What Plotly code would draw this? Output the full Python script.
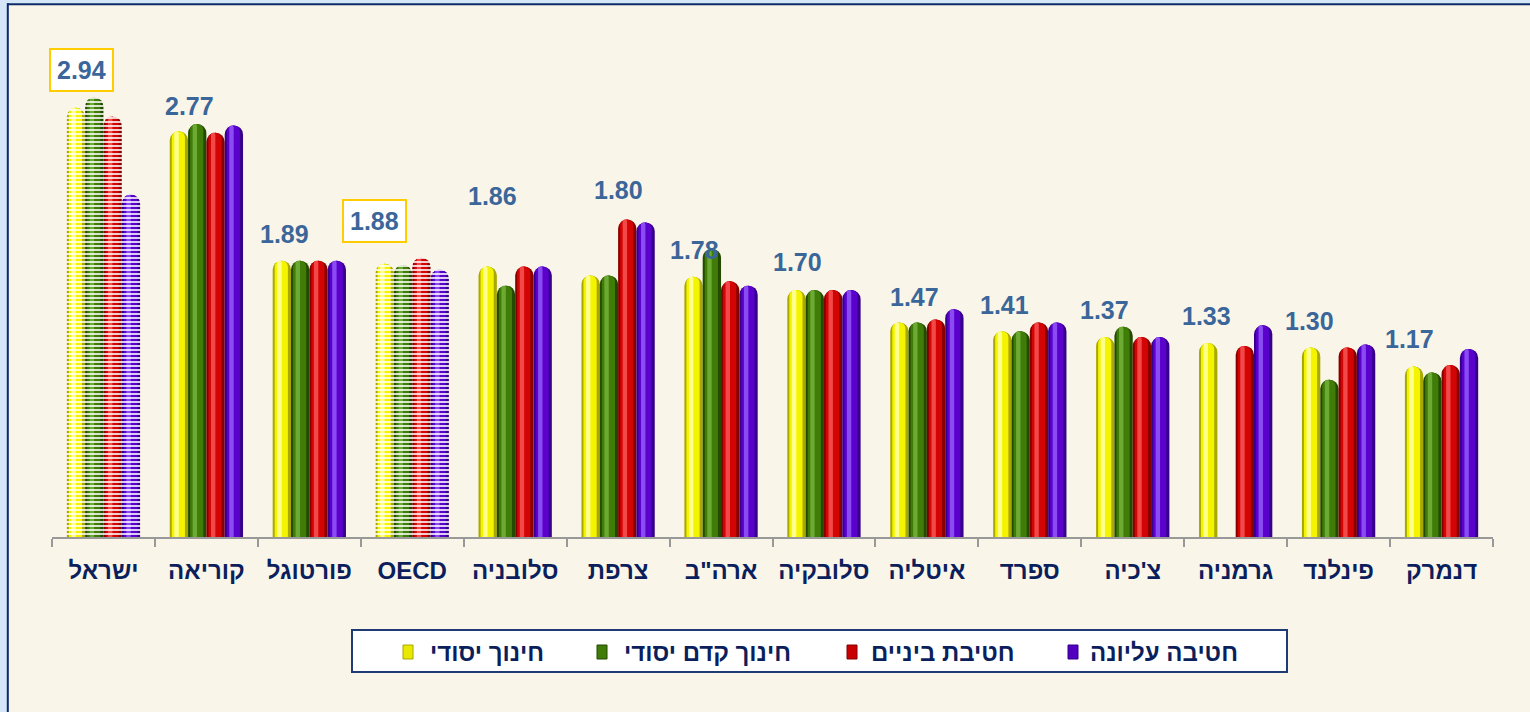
import plotly.graph_objects as go

# ---------------- data ----------------
categories = ["ישראל", "קוריאה", "פורטוגל", "OECD", "סלובניה", "צרפת", 'ארה"ב',
              "סלובקיה", "איטליה", "ספרד", "צ'כיה", "גרמניה", "פינלנד", "דנמרק"]
series_names = ["חינוך יסודי", "חינוך קדם יסודי", "חטיבת ביניים", "חטיבה עליונה"]
primary = [2.92, 2.76, 1.88, 1.86, 1.84, 1.78, 1.77, 1.68, 1.46, 1.40, 1.36, 1.32, 1.29, 1.16]
pre_primary = [2.99, 2.81, 1.88, 1.85, 1.71, 1.78, 1.96, 1.68, 1.46, 1.40, 1.43, None, 1.07, 1.12]
lower_secondary = [2.86, 2.75, 1.88, 1.90, 1.84, 2.16, 1.74, 1.68, 1.48, 1.46, 1.36, 1.30, 1.29, 1.17]
upper_secondary = [2.33, 2.80, 1.88, 1.82, 1.84, 2.14, 1.71, 1.68, 1.55, 1.46, 1.36, 1.44, 1.31, 1.28]
group_labels = ["2.94", "2.77", "1.89", "1.88", "1.86", "1.80", "1.78",
                "1.70", "1.47", "1.41", "1.37", "1.33", "1.30", "1.17"]
highlighted = ["ישראל", "OECD"]

series_values = [primary, pre_primary, lower_secondary, upper_secondary]

# ---------------- styles / layout ----------------
W, H = 1530, 712
ML, MR, MT, MB = 52, 37, 52, 175
PW, PH = W - ML - MR, H - MT - MB
Y_MAX = 3.3
FONT = "Liberation Sans, Arial, sans-serif"

def px2x(px):
    return (px - ML) / PW

def py2y(py):
    return (H - MB - py) / PH

palette = [
    dict(dark="#A8A800", mid="#F4F400", light="#FFFF8C"),   # yellow
    dict(dark="#244A00", mid="#3F7D08", light="#6CAA34"),   # green
    dict(dark="#860000", mid="#D20404", light="#F24848"),   # red
    dict(dark="#36008A", mid="#5A02CC", light="#8A4CF2"),   # purple
]
legend_colors = ["#E8E800", "#3F7D08", "#C80000", "#5200C0"]

BAR_W = 0.178
START = -2 * BAR_W
pattern_shapes = ["-" if c in highlighted else "" for c in categories]

fig = go.Figure()
for i, vals in enumerate(series_values):
    off = START + i * BAR_W
    layers = [
        (palette[i]["dark"], BAR_W, off, 9),
        (palette[i]["mid"], BAR_W * 0.72, off + BAR_W * 0.11, 6),
        (palette[i]["light"], BAR_W * 0.24, off + BAR_W * 0.25, 2),
    ]
    for color, w, o, r in layers:
        fig.add_trace(go.Bar(
            x=categories, y=vals, width=w, offset=o,
            marker=dict(color=color, cornerradius=r, line=dict(width=0),
                        pattern=dict(shape=pattern_shapes, fgcolor="white",
                                     fgopacity=0.8, size=4, solidity=0.5)),
            name=series_names[i], showlegend=False, hoverinfo="skip",
        ))

# group value labels (positions in data units)
label_x_shift = [-0.21, -0.16, -0.24, -0.37, -0.22, 0.0, -0.26,
                 -0.26, -0.12, -0.25, -0.27, -0.28, -0.28, -0.31]
label_y = [3.18, 2.93, 2.06, 2.15, 2.32, 2.36, 1.95,
           1.87, 1.635, 1.578, 1.544, 1.505, 1.469, 1.347]
annotations = []
for idx, (txt, cat) in enumerate(zip(group_labels, categories)):
    boxed = cat in highlighted
    annotations.append(dict(
        x=idx + label_x_shift[idx], y=label_y[idx], xref="x", yref="y",
        text=f"<b>{txt}</b>", showarrow=False, xanchor="center", yanchor="middle",
        font=dict(family=FONT, size=25, color="#3A6699"),
        bgcolor="white" if boxed else None,
        bordercolor="#FFCC00" if boxed else None,
        borderwidth=2 if boxed else 0, borderpad=6,
    ))

# manual legend
legend_marker_px = [403, 597, 847, 1068]
legend_text_px = [428, 622, 869, 1088]
LEG_Y = 652
shapes = [
    dict(type="rect", xref="paper", yref="paper", layer="above",
         x0=px2x(352), x1=px2x(1287), y0=py2y(672), y1=py2y(630),
         fillcolor="white", line=dict(color="#1F3A75", width=2)),
]
for i in range(4):
    shapes.append(dict(type="rect", xref="paper", yref="paper", layer="above",
                       x0=px2x(legend_marker_px[i]), x1=px2x(legend_marker_px[i] + 10),
                       y0=py2y(LEG_Y + 7), y1=py2y(LEG_Y - 7),
                       fillcolor=legend_colors[i], line=dict(color=palette[i]["dark"], width=1)))
    annotations.append(dict(
        x=px2x(legend_text_px[i]), y=py2y(LEG_Y), xref="paper", yref="paper",
        text=f"<b>{series_names[i]}</b>", showarrow=False, xanchor="left", yanchor="middle",
        font=dict(family=FONT, size=24, color="#0B1F5C"),
    ))

# outer frame
shapes += [
    dict(type="rect", xref="paper", yref="paper", layer="above",
         x0=px2x(0), x1=px2x(7), y0=py2y(H), y1=py2y(0),
         fillcolor="#D4E6F8", line=dict(width=0)),
    dict(type="rect", xref="paper", yref="paper", layer="above",
         x0=px2x(0), x1=px2x(W), y0=py2y(3.3), y1=py2y(0),
         fillcolor="#D4E6F8", line=dict(width=0)),
    dict(type="line", xref="paper", yref="paper", layer="above",
         x0=px2x(7.8), x1=px2x(7.8), y0=py2y(H), y1=py2y(3.3),
         line=dict(color="#0A2A6A", width=2)),
    dict(type="line", xref="paper", yref="paper", layer="above",
         x0=px2x(7), x1=px2x(W), y0=py2y(4.3), y1=py2y(4.3),
         line=dict(color="#0A2A6A", width=2)),
]

fig.update_layout(
    width=W, height=H, autosize=False,
    margin=dict(l=ML, r=MR, t=MT, b=MB, pad=0),
    barmode="overlay",
    paper_bgcolor="#FAF5E9", plot_bgcolor="#FAF5E9",
    showlegend=False,
    annotations=annotations, shapes=shapes,
    font=dict(family=FONT),
)
fig.update_xaxes(
    type="category", categoryorder="array", categoryarray=categories,
    range=[-0.5, len(categories) - 0.5],
    showline=True, linecolor="#999999", linewidth=2,
    ticks="outside", tickson="boundaries", ticklen=8, tickcolor="#999999", tickwidth=2,
    showgrid=False, zeroline=False, ticklabelstandoff=11,
    tickfont=dict(family=FONT, size=24, color="#0B1F5C"),
    tickprefix="<b>", ticksuffix="</b>",
)
fig.update_yaxes(range=[0, Y_MAX], visible=False, showgrid=False, zeroline=False)

fig.write_html(
    "out.html",
    config={"displayModeBar": False},
    post_script="document.body.style.margin='0';document.body.style.overflow='hidden';",
)
